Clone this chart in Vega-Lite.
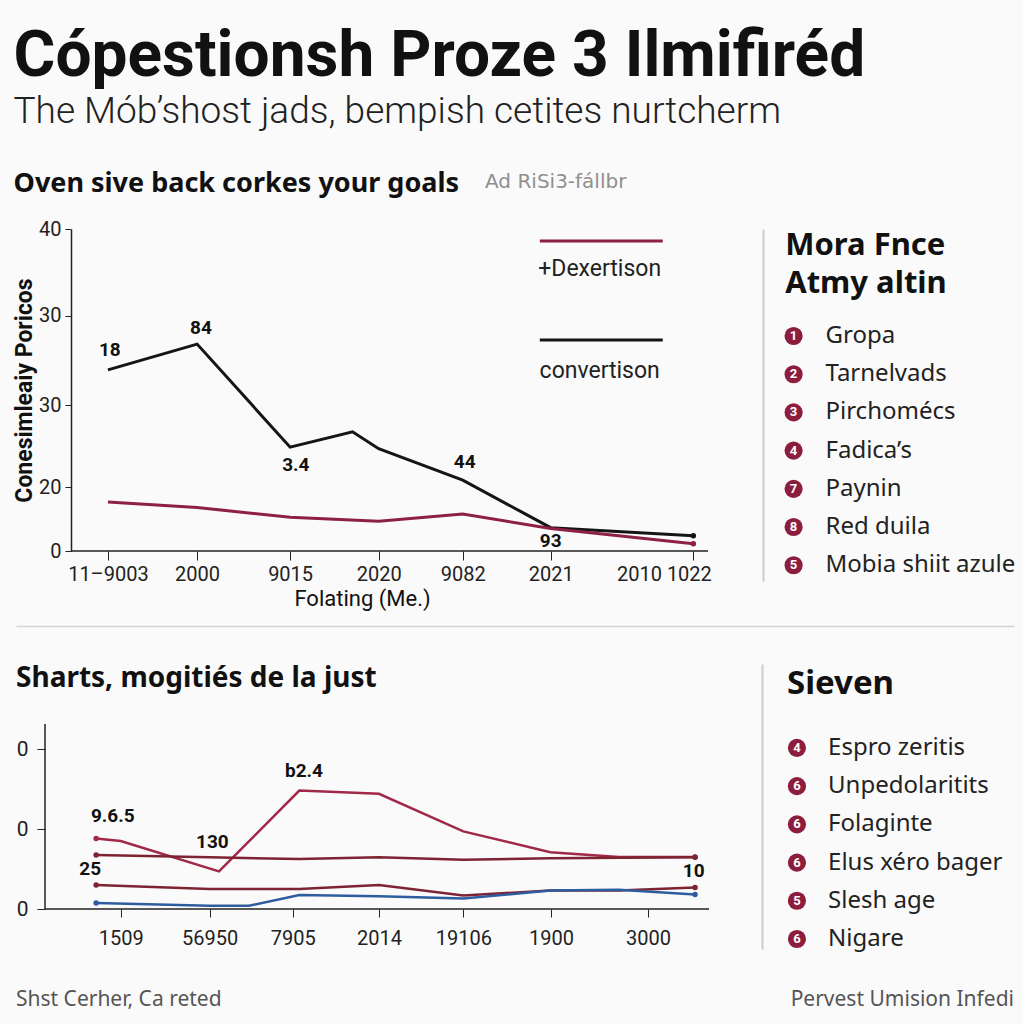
{
  "$schema": "https://vega.github.io/schema/vega-lite/v6.json",
  "background": "#fafafa",
  "padding": {"left": 13, "top": 25, "right": 5, "bottom": 5},
  "title": {
    "text": "Cópestionsh Proze 3 Ilmifiréd",
    "subtitle": "The Mób’shost jads, bempish cetites nurtcherm",
    "anchor": "start",
    "frame": "bounds",
    "font": "Roboto",
    "fontSize": 64,
    "fontWeight": "bold",
    "color": "#111111",
    "subtitleFont": "Roboto",
    "subtitleFontSize": 37,
    "subtitleFontWeight": 300,
    "subtitleColor": "#222222",
    "subtitlePadding": 5,
    "offset": 40
  },
  "config": {
    "view": {"stroke": null},
    "font": "Roboto",
    "axis": {"labelFont": "Roboto", "titleFont": "Roboto", "labelColor": "#222222", "domainColor": "#222222", "tickColor": "#222222", "grid": false}
  },
  "datasets": {
    "topSeries": [
      {"series": "convertison", "t": 5.8, "v": 22.5},
      {"series": "convertison", "t": 19.8, "v": 25.7},
      {"series": "convertison", "t": 34.4, "v": 12.9},
      {"series": "convertison", "t": 44.2, "v": 14.8},
      {"series": "convertison", "t": 48.3, "v": 12.7},
      {"series": "convertison", "t": 61.5, "v": 8.8},
      {"series": "convertison", "t": 75.3, "v": 2.9},
      {"series": "convertison", "t": 97.7, "v": 1.9},
      {"series": "Dexertison", "t": 5.8, "v": 6.1},
      {"series": "Dexertison", "t": 19.8, "v": 5.4},
      {"series": "Dexertison", "t": 34.4, "v": 4.2},
      {"series": "Dexertison", "t": 48.3, "v": 3.7},
      {"series": "Dexertison", "t": 61.5, "v": 4.6},
      {"series": "Dexertison", "t": 75.3, "v": 2.8},
      {"series": "Dexertison", "t": 97.7, "v": 0.9}
    ],
    "topLabels": [
      {"t": 6.1, "v": 25.0, "label": "18"},
      {"t": 20.4, "v": 27.7, "label": "84"},
      {"t": 35.3, "v": 10.7, "label": "3.4"},
      {"t": 61.8, "v": 11.0, "label": "44"},
      {"t": 75.3, "v": 1.3, "label": "93"}
    ],
    "bottomSeries": [
      {"series": "A", "t": 7.7, "v": 0.88},
      {"series": "A", "t": 11.4, "v": 0.85},
      {"series": "A", "t": 26.2, "v": 0.47},
      {"series": "A", "t": 38.3, "v": 1.48},
      {"series": "A", "t": 50.3, "v": 1.44},
      {"series": "A", "t": 63.0, "v": 0.97},
      {"series": "A", "t": 76.1, "v": 0.71},
      {"series": "A", "t": 86.4, "v": 0.65},
      {"series": "A", "t": 97.9, "v": 0.65},
      {"series": "B", "t": 7.7, "v": 0.675},
      {"series": "B", "t": 24.8, "v": 0.646},
      {"series": "B", "t": 38.3, "v": 0.625},
      {"series": "B", "t": 50.3, "v": 0.646},
      {"series": "B", "t": 63.0, "v": 0.616},
      {"series": "B", "t": 76.1, "v": 0.634},
      {"series": "B", "t": 97.9, "v": 0.646},
      {"series": "C", "t": 7.7, "v": 0.30},
      {"series": "C", "t": 24.8, "v": 0.25},
      {"series": "C", "t": 38.3, "v": 0.25},
      {"series": "C", "t": 50.3, "v": 0.30},
      {"series": "C", "t": 63.0, "v": 0.17},
      {"series": "C", "t": 76.1, "v": 0.23},
      {"series": "C", "t": 86.4, "v": 0.23},
      {"series": "C", "t": 97.9, "v": 0.27},
      {"series": "D", "t": 7.7, "v": 0.075},
      {"series": "D", "t": 24.8, "v": 0.04},
      {"series": "D", "t": 30.7, "v": 0.04},
      {"series": "D", "t": 38.3, "v": 0.175},
      {"series": "D", "t": 50.3, "v": 0.16},
      {"series": "D", "t": 63.0, "v": 0.13},
      {"series": "D", "t": 76.1, "v": 0.23},
      {"series": "D", "t": 86.4, "v": 0.24},
      {"series": "D", "t": 97.9, "v": 0.18}
    ],
    "bottomLabels": [
      {"t": 10.2, "v": 1.16, "label": "9.6.5"},
      {"t": 25.2, "v": 0.84, "label": "130"},
      {"t": 6.8, "v": 0.50, "label": "25"},
      {"t": 39.0, "v": 1.73, "label": "b2.4"},
      {"t": 97.7, "v": 0.48, "label": "10"}
    ],
    "topLegend": [
      {"kind": "head", "label": "Mora Fnce", "n": ""},
      {"kind": "head", "label": "Atmy altin", "n": ""},
      {"kind": "item", "label": "Gropa", "n": "1"},
      {"kind": "item", "label": "Tarnelvads", "n": "2"},
      {"kind": "item", "label": "Pirchomécs", "n": "3"},
      {"kind": "item", "label": "Fadica’s", "n": "4"},
      {"kind": "item", "label": "Paynin", "n": "7"},
      {"kind": "item", "label": "Red duila", "n": "8"},
      {"kind": "item", "label": "Mobia shiit azule", "n": "5"}
    ],
    "bottomLegend": [
      {"kind": "head", "label": "Sieven", "n": ""},
      {"kind": "item", "label": "Espro zeritis", "n": "4"},
      {"kind": "item", "label": "Unpedolaritits", "n": "6"},
      {"kind": "item", "label": "Folaginte", "n": "6"},
      {"kind": "item", "label": "Elus xéro bager", "n": "6"},
      {"kind": "item", "label": "Slesh age", "n": "5"},
      {"kind": "item", "label": "Nigare", "n": "6"}
    ]
  },
  "columns": 1,
  "align": "none",
  "spacing": 17,
  "concat": [
    {
      "hconcat": [
        {
          "width": 692,
          "height": 322,
          "title": {"text": "Oven sive back corkes your goals", "anchor": "start", "frame": "bounds", "font": "Noto Sans", "fontSize": 27, "fontWeight": "bold", "color": "#111111", "offset": -26},
          "layer": [
            {
              "data": {"values": [{"a": 1}]},
              "mark": {"type": "rule", "strokeWidth": 1.5, "color": "#222222"},
              "encoding": {
                "x": {"datum": 0, "type": "quantitative"},
                "x2": {"datum": 100},
                "y": {"datum": 0, "type": "quantitative"}
              }
            },
            {
              "data": {"name": "topSeries"},
              "mark": {"type": "line", "strokeWidth": 3},
              "encoding": {
                "x": {"field": "t", "type": "quantitative", "scale": {"domain": [-8.63, 100], "nice": false, "zero": false},
                  "axis": {"values": [5.8, 19.8, 34.4, 48.3, 61.5, 75.3, 97.7], "domain": false,
                    "labelExpr": "datum.value < 10 ? '11–9003' : datum.value < 25 ? '2000' : datum.value < 40 ? '9015' : datum.value < 55 ? '2020' : datum.value < 70 ? '9082' : datum.value < 85 ? '2021' : '2010 1022'",
                    "labelAlign": {"condition": {"test": "datum.value > 90", "value": "right"}, "value": "center"},
                    "labelOffset": {"condition": {"test": "datum.value > 90", "value": 18}, "value": 0},
                    "labelFontSize": 20, "labelPadding": 4, "labelOverlap": false, "labelFlush": false,
                    "tickSize": 9,
                    "title": "Folating (Me.)", "titleFontSize": 22, "titleFontWeight": "normal", "titleColor": "#111111", "titlePadding": 4}},
                "y": {"field": "v", "type": "quantitative", "scale": {"domain": [0, 40], "nice": false},
                  "axis": {"values": [0, 7.9, 18.1, 29.2, 40], "offset": -55,
                    "labelExpr": "datum.value == 0 ? '0' : datum.value < 10 ? '20' : datum.value < 35 ? '30' : '40'",
                    "labelFontSize": 20, "labelPadding": 4, "tickSize": 6, "domainWidth": 1.5,
                    "title": "Conesimleaiy Poricos", "titleFontSize": 23, "titleFontWeight": "bold", "titleColor": "#111111", "titlePadding": 2}},
                "color": {"field": "series", "type": "nominal", "scale": {"domain": ["Dexertison", "convertison", "A", "B", "C", "D"], "range": ["#8e2043", "#151515", "#a02849", "#7d2332", "#7d2332", "#2d5d9f"]}, "legend": null}
              }
            },
            {
              "data": {"name": "topSeries"},
              "transform": [{"filter": "datum.t > 97"}],
              "mark": {"type": "point", "filled": true, "size": 30, "opacity": 1},
              "encoding": {
                "x": {"field": "t", "type": "quantitative"},
                "y": {"field": "v", "type": "quantitative"},
                "color": {"field": "series", "type": "nominal", "legend": null}
              }
            },
            {
              "data": {"name": "topLabels"},
              "mark": {"type": "text", "font": "Roboto", "fontSize": 19, "fontWeight": "bold", "color": "#111111"},
              "encoding": {
                "x": {"field": "t", "type": "quantitative"},
                "y": {"field": "v", "type": "quantitative"},
                "text": {"field": "label"}
              }
            },
            {
              "data": {"values": [{"series": "Dexertison"}]},
              "mark": {"type": "rule", "strokeWidth": 3},
              "encoding": {
                "x": {"datum": 73.6, "type": "quantitative"},
                "x2": {"datum": 92.9},
                "y": {"datum": 38.5, "type": "quantitative"},
                "color": {"field": "series", "type": "nominal", "legend": null}
              }
            },
            {
              "data": {"values": [{"series": "convertison"}]},
              "mark": {"type": "rule", "strokeWidth": 3},
              "encoding": {
                "x": {"datum": 73.6, "type": "quantitative"},
                "x2": {"datum": 92.9},
                "y": {"datum": 26.2, "type": "quantitative"},
                "color": {"field": "series", "type": "nominal", "legend": null}
              }
            },
            {
              "data": {"values": [{"label": "+Dexertison"}]},
              "mark": {"type": "text", "font": "Roboto", "fontSize": 23, "color": "#222222"},
              "encoding": {
                "x": {"datum": 83.0, "type": "quantitative"},
                "y": {"datum": 35.0, "type": "quantitative"},
                "text": {"field": "label"}
              }
            },
            {
              "data": {"values": [{"label": "convertison"}]},
              "mark": {"type": "text", "font": "Roboto", "fontSize": 23, "color": "#222222"},
              "encoding": {
                "x": {"datum": 83.0, "type": "quantitative"},
                "y": {"datum": 22.4, "type": "quantitative"},
                "text": {"field": "label"}
              }
            },
            {
              "data": {"values": [{"label": "Ad RiSi3-fállbr"}]},
              "mark": {"type": "text", "align": "left", "font": "DejaVu Sans", "fontSize": 20, "color": "#8f8f8f"},
              "encoding": {
                "x": {"datum": 65.0, "type": "quantitative"},
                "y": {"datum": 45.8, "type": "quantitative"},
                "text": {"field": "label"}
              }
            }
          ]
        },
        {
          "width": 255,
          "height": 352,
          "data": {"name": "topLegend"},
          "encoding": {
            "y": {"field": "label", "type": "nominal",
              "scale": {"type": "point", "domain": ["Mora Fnce", "Atmy altin", "Gropa", "Tarnelvads", "Pirchomécs", "Fadica’s", "Paynin", "Red duila", "Mobia shiit azule"], "padding": 0.607, "align": 0.66},
              "axis": {"orient": "left", "labels": false, "ticks": false, "title": null, "grid": false, "domainColor": "#cccccc", "domainWidth": 2}}
          },
          "layer": [
            {
              "transform": [{"filter": "datum.kind == 'head'"}],
              "mark": {"type": "text", "align": "left", "baseline": "middle", "dy": -14, "font": "Noto Sans", "fontSize": 31, "fontWeight": "bold", "color": "#111111"},
              "encoding": {
                "x": {"datum": 0.87, "type": "quantitative", "scale": {"domain": [0, 10], "nice": false}, "axis": null},
                "text": {"field": "label"}
              }
            },
            {
              "transform": [{"filter": "datum.kind == 'item'"}],
              "mark": {"type": "circle", "size": 330, "color": "#8c1d3c", "opacity": 1},
              "encoding": {"x": {"datum": 1.2, "type": "quantitative", "axis": null}}
            },
            {
              "transform": [{"filter": "datum.kind == 'item'"}],
              "mark": {"type": "text", "font": "Roboto", "fontSize": 13, "fontWeight": "bold", "color": "#ffffff"},
              "encoding": {"x": {"datum": 1.2, "type": "quantitative", "axis": null}, "text": {"field": "n"}}
            },
            {
              "transform": [{"filter": "datum.kind == 'item'"}],
              "mark": {"type": "text", "align": "left", "font": "Noto Sans", "fontSize": 24, "color": "#222222"},
              "encoding": {"x": {"datum": 2.45, "type": "quantitative", "axis": null}, "text": {"field": "label"}}
            }
          ]
        }
      ],
      "spacing": 55,
      "bounds": "flush"
    },
    {
      "width": 998,
      "height": 21,
      "data": {"values": [{"a": 0}, {"a": 1}]},
      "mark": {"type": "rule", "opacity": 0},
      "encoding": {
        "x": {"field": "a", "type": "quantitative", "scale": {"domain": [0, 1], "nice": false},
          "axis": {"orient": "top", "labels": false, "ticks": false, "title": null, "grid": false, "domainColor": "#d4d4d4", "domainWidth": 1.5}}
      }
    },
    {
      "hconcat": [
        {
          "width": 693,
          "height": 245,
          "title": {"text": "Sharts, mogitiés de la just", "anchor": "start", "frame": "bounds", "font": "Noto Sans", "fontSize": 28, "fontWeight": "bold", "color": "#111111", "offset": -29},
          "layer": [
            {
              "data": {"values": [{"a": 1}]},
              "mark": {"type": "rule", "strokeWidth": 1.5, "color": "#222222"},
              "encoding": {
                "x": {"datum": 0, "type": "quantitative"},
                "x2": {"datum": 100},
                "y": {"datum": 0, "type": "quantitative"}
              }
            },
            {
              "data": {"values": [{"a": 1}]},
              "mark": {"type": "rule", "strokeWidth": 1.5, "color": "#222222"},
              "encoding": {
                "x": {"datum": 0, "type": "quantitative"},
                "y": {"datum": 0, "type": "quantitative"},
                "y2": {"datum": 2.3125}
              }
            },
            {
              "data": {"name": "bottomSeries"},
              "mark": {"type": "line", "strokeWidth": 2.5},
              "encoding": {
                "x": {"field": "t", "type": "quantitative", "scale": {"domain": [-4.37, 100], "nice": false, "zero": false},
                  "axis": {"values": [11.4, 24.8, 37.3, 50.3, 63.0, 76.2, 90.8], "domain": false,
                    "labelExpr": "datum.value < 15 ? '1509' : datum.value < 30 ? '56950' : datum.value < 40 ? '7905' : datum.value < 55 ? '2014' : datum.value < 70 ? '19106' : datum.value < 85 ? '1900' : '3000'",
                    "labelFontSize": 20, "labelPadding": 11, "labelOverlap": false, "labelFlush": false,
                    "tickSize": 8, "title": null}},
                "y": {"field": "v", "type": "quantitative", "scale": {"domain": [0, 3.0625], "nice": false},
                  "axis": {"values": [0, 1, 2], "offset": -29, "domain": false, "labelExpr": "'0'", "labelFontSize": 21, "labelPadding": 9, "tickSize": 8, "title": null}},
                "color": {"field": "series", "type": "nominal", "scale": {"domain": ["Dexertison", "convertison", "A", "B", "C", "D"], "range": ["#8e2043", "#151515", "#a02849", "#7d2332", "#7d2332", "#2d5d9f"]}, "legend": null}
              }
            },
            {
              "data": {"name": "bottomSeries"},
              "transform": [{"filter": "datum.t < 8 || datum.t > 97"}],
              "mark": {"type": "point", "filled": true, "size": 30, "opacity": 1},
              "encoding": {
                "x": {"field": "t", "type": "quantitative"},
                "y": {"field": "v", "type": "quantitative"},
                "color": {"field": "series", "type": "nominal", "legend": null}
              }
            },
            {
              "data": {"name": "bottomLabels"},
              "mark": {"type": "text", "font": "Roboto", "fontSize": 19, "fontWeight": "bold", "color": "#111111"},
              "encoding": {
                "x": {"field": "t", "type": "quantitative"},
                "y": {"field": "v", "type": "quantitative"},
                "text": {"field": "label"}
              }
            }
          ]
        },
        {
          "width": 255,
          "height": 285,
          "data": {"name": "bottomLegend"},
          "encoding": {
            "y": {"field": "label", "type": "nominal",
              "scale": {"type": "point", "domain": ["Sieven", "Espro zeritis", "Unpedolaritits", "Folaginte", "Elus xéro bager", "Slesh age", "Nigare"], "padding": 0.73, "align": 0.82},
              "axis": {"orient": "left", "labels": false, "ticks": false, "title": null, "grid": false, "domainColor": "#cccccc", "domainWidth": 2}}
          },
          "layer": [
            {
              "transform": [{"filter": "datum.kind == 'head'"}],
              "mark": {"type": "text", "align": "left", "baseline": "middle", "dy": -26, "font": "Noto Sans", "fontSize": 33, "fontWeight": "bold", "color": "#111111"},
              "encoding": {
                "x": {"datum": 0.98, "type": "quantitative", "scale": {"domain": [0, 10], "nice": false}, "axis": null},
                "text": {"field": "label"}
              }
            },
            {
              "transform": [{"filter": "datum.kind == 'item'"}],
              "mark": {"type": "circle", "size": 330, "color": "#8c1d3c", "opacity": 1},
              "encoding": {"x": {"datum": 1.37, "type": "quantitative", "axis": null}}
            },
            {
              "transform": [{"filter": "datum.kind == 'item'"}],
              "mark": {"type": "text", "font": "Roboto", "fontSize": 13, "fontWeight": "bold", "color": "#ffffff"},
              "encoding": {"x": {"datum": 1.37, "type": "quantitative", "axis": null}, "text": {"field": "n"}}
            },
            {
              "transform": [{"filter": "datum.kind == 'item'"}],
              "mark": {"type": "text", "align": "left", "font": "Noto Sans", "fontSize": 24, "color": "#222222"},
              "encoding": {"x": {"datum": 2.59, "type": "quantitative", "axis": null}, "text": {"field": "label"}}
            }
          ]
        }
      ],
      "spacing": 52
    },
    {
      "width": 998,
      "height": 64,
      "data": {"values": [{"side": "left", "label": "Shst Cerher, Ca reted"}, {"side": "right", "label": "Pervest Umision Infedi"}]},
      "layer": [
        {
          "transform": [{"filter": "datum.side == 'left'"}],
          "mark": {"type": "text", "align": "left", "font": "Noto Sans", "fontSize": 21, "color": "#555555"},
          "encoding": {"x": {"datum": 0, "type": "quantitative", "scale": {"domain": [0, 1], "nice": false}, "axis": null}, "text": {"field": "label"}}
        },
        {
          "transform": [{"filter": "datum.side == 'right'"}],
          "mark": {"type": "text", "align": "right", "font": "Noto Sans", "fontSize": 21, "color": "#555555"},
          "encoding": {"x": {"datum": 1, "type": "quantitative", "axis": null}, "text": {"field": "label"}}
        }
      ]
    }
  ]
}
